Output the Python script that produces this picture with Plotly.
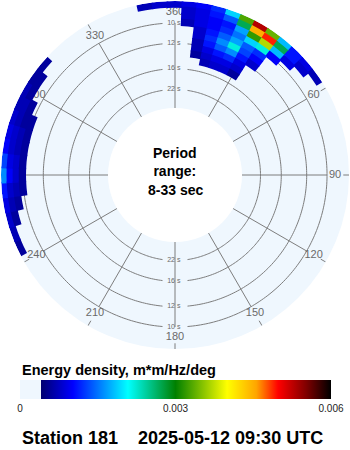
import math
import plotly.graph_objects as go

# ---------------- data ----------------
# frequency bin centres (Hz), outermost first
freqs_hz = [0.1155, 0.1105, 0.1055, 0.1005, 0.0955, 0.0905, 0.0855, 0.0805, 0.0755, 0.0705]

# north-east energy blob (direction bins, deg)
dirs_ne = [350, 355, 0, 5, 10, 15, 20, 25, 30, 35, 40, 45, 50, 55]
energy_ne = [
    [0.0007, 0.0008, 0.0008, 0.0009, 0.0010, 0.0012, 0.0019, 0.0033, 0.0053, 0.0034, 0.0018, 0.0011, 0.0009, 0.0007],
    [0,      0,      0,      0.0008, 0.0009, 0.0011, 0.0014, 0.0027, 0.0045, 0.0049, 0.0027, 0.0011, 0.0008, 0],
    [0,      0,      0,      0.0008, 0.0009, 0.0010, 0.0011, 0.0017, 0.0032, 0.0037, 0.0018, 0.0009, 0,      0],
    [0,      0,      0,      0.0007, 0.0009, 0.0010, 0.0012, 0.0015, 0.0019, 0.0022, 0.0010, 0,      0,      0],
    [0,      0,      0,      0,      0.0008, 0.0011, 0.0014, 0.0017, 0.0014, 0.0012, 0,      0,      0,      0],
    [0,      0,      0,      0,      0.0008, 0.0012, 0.0016, 0.0022, 0.0013, 0.0010, 0,      0,      0,      0],
    [0,      0,      0,      0,      0.0007, 0.0011, 0.0014, 0.0016, 0.0011, 0.0008, 0,      0,      0,      0],
    [0,      0,      0,      0,      0.0007, 0.0009, 0.0011, 0.0012, 0.0009, 0,      0,      0,      0,      0],
    [0,      0,      0,      0,      0.0006, 0.0008, 0.0009, 0.0009, 0.0008, 0,      0,      0,      0,      0],
    [0,      0,      0,      0,      0,      0.0007, 0.0008, 0.0008, 0.0006, 0,      0,      0,      0,      0],
]

# western crescent (direction bins, deg)
dirs_w = [245, 250, 255, 260, 265, 270, 275, 280, 285, 290, 295, 300, 305, 310]
energy_w = [
    [0.0006, 0.0007, 0.0008, 0.0009, 0.0011, 0.0016, 0.0013, 0.0010, 0.0009, 0.0008, 0.0007, 0.0007, 0.0006, 0.0006],
    [0,      0,      0.0006, 0.0007, 0.0008, 0.0010, 0.0009, 0.0008, 0.0008, 0.0007, 0.0007, 0.0006, 0.0006, 0],
    [0,      0,      0,      0.0006, 0.0007, 0.0008, 0.0008, 0.0007, 0.0007, 0.0006, 0.0006, 0,      0,      0],
    [0,      0,      0,      0,      0.0006, 0.0006, 0.0006, 0.0006, 0.0006, 0.0006, 0,      0,      0,      0],
]

period_rings = [10, 12, 16, 22]          # seconds
spoke_angles = [0, 30, 60, 90, 120, 150, 180, 210, 240, 270, 300, 330]
spoke_labels = ["360", "30", "60", "90", "120", "150", "180", "210", "240", "270", "300", "330"]
cbar_ticks = [0, 0.003, 0.006]
cbar_ticktext = ["0", "0.003", "0.006"]

# ---------------- style / geometry ----------------
F_MIN = 1 / 33
F_MAX = 0.118
BIN_HZ = 0.005
BIN_DEG = 5
OVERLAP = 0.6            # half-extent of a drawn cell, in bins (slight overlap hides seams)
R_PX = 174.0
HOLE_PX = 67.0
HOLE = HOLE_PX / R_PX
F_LABEL = 0.1066
F_LABEL_NS = 0.1085      # N/S labels sit a touch further out
F_GAP_OUT = 0.1133
GRID = "#7d7d7d"
BG = "#eff7fe"
FONT = "Liberation Sans"

colorscale = [
    [0.0, BG], [0.0675, BG],
    [0.0675, "#000070"], [0.17, "#0000ff"], [0.347, "#00ffff"],
    [0.5, "#008000"], [0.666, "#ffff00"], [0.76, "#ffa500"],
    [0.83, "#ff0000"], [0.92, "#800000"], [1.0, "#000000"],
]


def r_px(f):
    return HOLE_PX + (f - F_MIN) / (F_MAX - F_MIN) * (R_PX - HOLE_PX)


# cells
th, base, rr, val = [], [], [], []
for dirs, mat in ((dirs_ne, energy_ne), (dirs_w, energy_w)):
    for i, row in enumerate(mat):
        for j, v in enumerate(row):
            if v > 0:
                lo = max(F_MIN, freqs_hz[i] - OVERLAP * BIN_HZ)
                hi = min(F_MAX, freqs_hz[i] + OVERLAP * BIN_HZ)
                th.append(dirs[j])
                base.append(lo)
                rr.append(hi - lo)
                val.append(v)

fig = go.Figure()

# spokes (broken around the direction labels)
sp_t, sp_r = [], []
for a in spoke_angles:
    sp_t += [a, a, None, a, a, None]
    sp_r += [F_MIN, 1 / period_rings[0], None, F_GAP_OUT, F_MAX, None]
fig.add_trace(go.Scatterpolar(theta=sp_t, r=sp_r, mode="lines", line=dict(color=GRID, width=1),
                              subplot="polar", hoverinfo="skip"))

# period rings (broken around the labels on the N-S line)
rg_t, rg_r = [], []
for p in period_rings:
    f = 1 / p
    half = math.degrees(math.asin(12.5 / r_px(f)))
    for start, end in ((half, 180 - half), (180 + half, 360 - half)):
        n = int(end - start) + 1
        for k in range(n + 1):
            rg_t.append(start + (end - start) * k / n)
            rg_r.append(f)
        rg_t.append(None)
        rg_r.append(None)
fig.add_trace(go.Scatterpolar(theta=rg_t, r=rg_r, mode="lines", line=dict(color=GRID, width=1),
                              subplot="polar", hoverinfo="skip"))

# ring labels
lab_r = [1 / p for p in period_rings] * 2
lab_t = [0] * len(period_rings) + [180] * len(period_rings)
fig.add_trace(go.Scatterpolar(theta=lab_t, r=lab_r, mode="text",
                              text=[str(p) for p in period_rings] * 2,
                              textposition="middle left",
                              textfont=dict(family=FONT, size=7, color="#6a6a6a"),
                              subplot="polar", hoverinfo="skip"))
fig.add_trace(go.Scatterpolar(theta=lab_t, r=lab_r, mode="text",
                              text=["\u00a0s"] * len(lab_r),
                              textposition="middle right",
                              textfont=dict(family=FONT, size=7, color="#6a6a6a"),
                              subplot="polar", hoverinfo="skip"))

# direction labels
lab_rad = [F_LABEL_NS if a in (0, 180) else F_LABEL for a in spoke_angles]
fig.add_trace(go.Scatterpolar(theta=spoke_angles, r=lab_rad, mode="text",
                              text=spoke_labels, textposition="middle center",
                              textfont=dict(family=FONT, size=11, color="#6a6a6a"),
                              subplot="polar", hoverinfo="skip"))

# spectrum cells
fig.add_trace(go.Barpolar(
    theta=th, base=base, r=rr, width=[BIN_DEG * 1.12] * len(th), subplot="polar2",
    marker=dict(color=val, colorscale=colorscale, cmin=0, cmax=0.006, showscale=True,
                line=dict(width=0),
                colorbar=dict(orientation="h", x=175.5 / 350, xanchor="center", len=311 / 350,
                              lenmode="fraction", thickness=19, y=1 - 380 / 450, yanchor="top",
                              ypad=0, xpad=0, outlinewidth=0, ticks="",
                              tickvals=cbar_ticks, ticktext=cbar_ticktext,
                              tickfont=dict(family=FONT, size=10, color="#222222"))),
    hoverinfo="skip"))


def polar_cfg(bg):
    return dict(
        domain=dict(x=[1 / 350, 349 / 350], y=[1 - 349 / 450, 1 - 1 / 450]),
        hole=HOLE, bgcolor=bg, bargap=0,
        radialaxis=dict(range=[F_MIN, F_MAX], showgrid=False, showticklabels=False,
                        showline=False, ticks=""),
        angularaxis=dict(rotation=90, direction="clockwise", showgrid=False,
                         showticklabels=False, showline=False, ticks=""),
    )


ann = [
    dict(text="<b>Period<br>range:</b>", x=0.5, y=1 - 162 / 450, xref="paper", yref="paper",
         xanchor="center", yanchor="middle", showarrow=False,
         font=dict(family=FONT, size=14, color="#000000")),
    dict(text="<b>8-33 sec</b>", x=0.5, y=1 - 190 / 450, xref="paper", yref="paper",
         xanchor="center", yanchor="middle", showarrow=False,
         font=dict(family=FONT, size=14, color="#000000")),
    dict(text="<b>Energy density, m*m/Hz/deg</b>", x=20 / 350, y=1 - 370 / 450,
         xref="paper", yref="paper", xanchor="left", yanchor="middle", showarrow=False,
         font=dict(family=FONT, size=14.5, color="#000000")),
    dict(text="<b>Station 181\u00a0\u00a0\u00a0\u00a02025-05-12 09:30 UTC</b>", x=20 / 350,
         y=1 - 437.5 / 450, xref="paper", yref="paper", xanchor="left", yanchor="middle",
         showarrow=False, font=dict(family=FONT, size=18, color="#000000")),
]

fig.update_layout(
    width=350, height=450, margin=dict(l=0, r=0, t=0, b=0),
    paper_bgcolor="white", showlegend=False,
    polar=polar_cfg(BG), polar2=polar_cfg("rgba(0,0,0,0)"),
    annotations=ann,
)

fig.write_html("out.html", config={"displayModeBar": False})
